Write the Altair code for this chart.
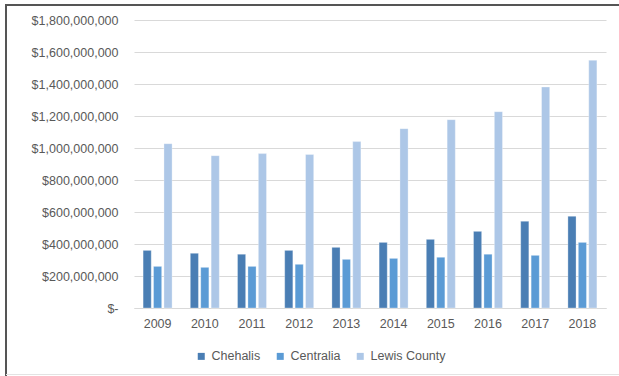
import altair as alt
import pandas as pd

years = ["2009", "2010", "2011", "2012", "2013", "2014", "2015", "2016", "2017", "2018"]
series = ["Chehalis", "Centralia", "Lewis County"]
chehalis = [360e6, 342e6, 336e6, 360e6, 379e6, 410e6, 429e6, 479e6, 542e6, 573e6]
centralia = [260e6, 254e6, 260e6, 273e6, 304e6, 310e6, 317e6, 336e6, 329e6, 410e6]
lewis = [1027e6, 952e6, 965e6, 959e6, 1040e6, 1121e6, 1177e6, 1227e6, 1381e6, 1548e6]
colors = ["#4A7EB4", "#5B9BD5", "#ADC7E7"]
y_ticks = [0, 200e6, 400e6, 600e6, 800e6, 1000e6, 1200e6, 1400e6, 1600e6, 1800e6]

rows = []
for name, vals in zip(series, [chehalis, centralia, lewis]):
    for yr, v in zip(years, vals):
        rows.append({"Year": yr, "Series": name, "Value": v})
df = pd.DataFrame(rows)

FONT = "Liberation Sans"
TXT = "#595959"

bars = alt.Chart(df).mark_bar(stroke="#ffffff", strokeWidth=0.5, strokeOpacity=0.6).encode(
    x=alt.X("Year:N", sort=years,
            scale=alt.Scale(paddingInner=0.386, paddingOuter=0.193),
            axis=alt.Axis(title=None, labelAngle=0, ticks=False, domain=True,
                          domainColor="#d9d9d9", labelPadding=9,
                          labelFontSize=12.5, labelColor=TXT, labelFont=FONT)),
    xOffset=alt.XOffset("Series:N", sort=series,
                        scale=alt.Scale(paddingInner=0.22, paddingOuter=0)),
    y=alt.Y("Value:Q", scale=alt.Scale(domain=[0, 1.8e9], nice=False),
            axis=alt.Axis(title=None, values=y_ticks, ticks=False, domain=False,
                          gridColor="#d9d9d9", labelPadding=16,
                          labelFontSize=12.5, labelColor=TXT, labelFont=FONT,
                          labelExpr="datum.value == 0 ? '$-\u00a0\u00a0' : '$' + format(datum.value, ',.0f')")),
    color=alt.Color("Series:N", sort=series,
                    scale=alt.Scale(domain=series, range=colors),
                    legend=alt.Legend(title=None, orient="none", direction="horizontal",
                                      legendX=61, legendY=330, symbolType="square",
                                      symbolSize=49, symbolStrokeWidth=0,
                                      labelFontSize=12.5, labelColor=TXT, labelFont=FONT,
                                      labelOffset=4, columnPadding=13)),
)

one = pd.DataFrame({"a": [0]})
top_line = alt.Chart(one).mark_rule(color="#555555", strokeWidth=2).encode(
    x=alt.value(-129), x2=alt.value(485), y=alt.value(-15))
left_line = alt.Chart(one).mark_rule(color="#555555", strokeWidth=2).encode(
    x=alt.value(-128), y=alt.value(-16), y2=alt.value(356))
bottom_line = alt.Chart(one).mark_rule(color="#e3e3e3", strokeWidth=1).encode(
    x=alt.value(-128), x2=alt.value(485), y=alt.value(354.5))

chart = alt.layer(bars, top_line, left_line, bottom_line).properties(
    width=472, height=288,
    autosize=alt.AutoSizeParams(type="none"),
    padding={"left": 134, "top": 20, "right": 13, "bottom": 68},
    background="white",
).configure_view(stroke=None)

chart.save("out.html", embed_options={"renderer": "svg", "actions": False})
